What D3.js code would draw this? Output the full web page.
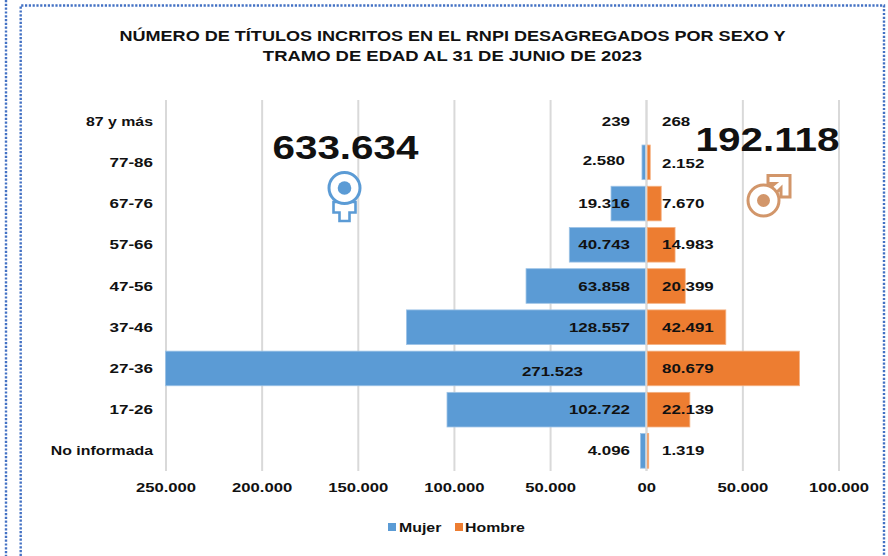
<!DOCTYPE html>
<html><head><meta charset="utf-8">
<script src="https://cdn.jsdelivr.net/npm/d3@7/dist/d3.min.js"></script>
<style>html,body{margin:0;padding:0;background:#fff}svg{display:block}text{font-family:"Liberation Sans",Arial,sans-serif;font-weight:700;fill:#111}</style>
</head><body><script>
const categories=["87 y más","77-86","67-76","57-66","47-56","37-46","27-36","17-26","No informada"];
const mujerLabels=[239,2580,19316,40743,63858,128557,271523,102722,4096];
const hombreLabels=[268,2152,7670,14983,20399,42491,80679,22139,1319];
// bar lengths as read against the axis (the drawn bars differ slightly from their printed labels)
const mujerBars=[239,2200,18300,40000,62500,124700,271523,103600,3000];
const hombreBars=[268,2100,7800,15000,20300,41400,79700,22700,1300];
const tickValues=[-250000,-200000,-150000,-100000,-50000,0,50000,100000];
const titleLines=["NÚMERO DE TÍTULOS INCRITOS EN EL RNPI DESAGREGADOS POR SEXO Y","TRAMO DE EDAD AL 31 DE JUNIO DE 2023"];
const totalMujer="633.634",totalHombre="192.118";
const seriesNames=["Mujer","Hombre"];
const colMujer="#5B9BD5",colHombre="#ED7D31";

const W=888,H=556;
const svg=d3.select("body").append("svg").attr("width",W).attr("height",H);
const fmt=v=>d3.format(",")(Math.abs(v)).replace(/,/g,".");
const x=d3.scaleLinear().domain([-250000,100000]).range([165.5,838.5]).clamp(true);
const y=d3.scaleBand().domain(categories).range([100.5,471.5]).paddingInner(0.16).paddingOuter(0.08);
const X0=x(0);
function stretch(sel,k){sel.each(function(d,i){const t=d3.select(this);const w=this.getComputedTextLength();const f=typeof k==="function"?k(d,i):k;t.attr("textLength",w*f).attr("lengthAdjust","spacingAndGlyphs")})}

// dotted frame
const frame=svg.append("g").attr("fill","none").attr("stroke","#4472C4").attr("stroke-width",2.4).attr("stroke-dasharray","2.2 1.6");
frame.append("path").attr("d",d3.line()([[6,0],[6,556]]));
frame.append("path").attr("d",d3.line()([[20.7,556],[20.7,5.5],[884,5.5],[884,556]]));

// title
svg.append("g").selectAll("text").data(titleLines).join("text")
 .attr("x",452.5).attr("y",(d,i)=>41+i*19.5).attr("text-anchor","middle").attr("font-size",14.5).text(d=>d).call(stretch,(d,i)=>i===0?1.245:1.272);

// grid + x axis
const axis=svg.append("g").attr("transform","translate(0,471)")
 .call(d3.axisBottom(x).tickValues(tickValues).tickSize(-371).tickPadding(10).tickFormat(v=>v===0?"00":fmt(v)));
axis.attr("font-family",null);
axis.select(".domain").remove();
axis.selectAll("line").attr("stroke","#D9D9D9").attr("stroke-width",2);
axis.selectAll("text").attr("font-size",13).attr("fill","#111").attr("dy",".32em").attr("y",17).call(stretch,1.28);

// bars
const rows=categories.map((c,i)=>({c,i}));
svg.append("g").selectAll("rect").data(rows).join("rect")
 .attr("x",d=>x(-mujerBars[d.i])).attr("y",d=>y(d.c)).attr("width",d=>X0-x(-mujerBars[d.i])-0.5).attr("height",y.bandwidth())
 .attr("fill",colMujer).attr("stroke","#9DC3E6").attr("stroke-width",0.8);
svg.append("g").selectAll("rect").data(rows).join("rect")
 .attr("x",X0+1).attr("y",d=>y(d.c)).attr("width",d=>x(hombreBars[d.i])-X0-1).attr("height",y.bandwidth())
 .attr("fill",colHombre).attr("stroke","#F4B183").attr("stroke-width",0.8);
svg.append("line").attr("x1",X0).attr("x2",X0).attr("y1",100).attr("y2",471).attr("stroke","#D9D9D9").attr("stroke-width",1.6);

// category labels
svg.append("g").selectAll("text").data(categories).join("text")
 .attr("x",153).attr("y",d=>y(d)+y.bandwidth()/2).attr("dy",".35em").attr("text-anchor","end").attr("font-size",13).text(d=>d)
 .call(stretch,d=>/^\d+-\d+$/.test(d)?1.31:1.22);

// data labels
const mEnd=d=>d.i===6?583:d.i===1?625:630;
const mDy=d=>d.i===6?3:d.i===1?-2:0;
svg.append("g").selectAll("text").data(rows).join("text")
 .attr("x",mEnd).attr("y",d=>y(d.c)+y.bandwidth()/2+mDy(d)).attr("dy",".35em").attr("text-anchor","end").attr("font-size",13).text(d=>fmt(mujerLabels[d.i])).call(stretch,1.3);
svg.append("g").selectAll("text").data(rows).join("text")
 .attr("x",662).attr("y",d=>y(d.c)+y.bandwidth()/2+(d.i===1?1:0)).attr("dy",".35em").attr("font-size",13).text(d=>fmt(hombreLabels[d.i])).call(stretch,1.3);

// totals
svg.append("text").attr("x",345.5).attr("y",159).attr("text-anchor","middle").attr("font-size",33).text(totalMujer).call(stretch,1.225);
svg.append("text").attr("x",767.5).attr("y",151).attr("text-anchor","middle").attr("font-size",33).text(totalHombre).call(stretch,1.225);

// gender symbols
const fem=svg.append("g").attr("fill","none").attr("stroke",colMujer).attr("stroke-width",2.6);
fem.append("path").attr("fill","#fff").attr("d",d3.line()([[339.5,198],[349.5,198],[349.5,202],[355.5,202],[355.5,212.5],[349.5,212.5],[349.5,221],[339.5,221],[339.5,212.5],[333.5,212.5],[333.5,202],[339.5,202]])+"Z");
fem.append("circle").attr("cx",344.5).attr("cy",188).attr("r",15.5).attr("fill","#fff").attr("stroke-width",3);
fem.append("circle").attr("cx",344.5).attr("cy",188).attr("r",6.8).attr("fill",colMujer).attr("stroke","none");
const colMale="#D2966A";
const mal=svg.append("g").attr("fill","none").attr("stroke",colMale).attr("stroke-width",3);
mal.append("path").attr("fill","#fff").attr("d",d3.line()([[768,175.5],[790,175.5],[790,197],[781,197],[781,188],[773,196],[767,190],[775,183.5],[768,183.5]])+"Z");
mal.append("circle").attr("cx",763.5).attr("cy",200.5).attr("r",15.5).attr("fill","#fff").attr("stroke-width",3);
mal.append("circle").attr("cx",763.5).attr("cy",200.5).attr("r",6.5).attr("fill",colMale).attr("stroke","none");

// legend
const lg=svg.append("g");
[[388,399,colMujer],[455,465,colHombre]].forEach((p,i)=>{
 lg.append("rect").attr("x",p[0]).attr("y",523).attr("width",8).attr("height",8).attr("fill",p[2]);
 lg.append("text").attr("x",p[1]).attr("y",527).attr("dy",".35em").attr("font-size",13).text(seriesNames[i]).call(stretch,1.22);
});
</script></body></html>
